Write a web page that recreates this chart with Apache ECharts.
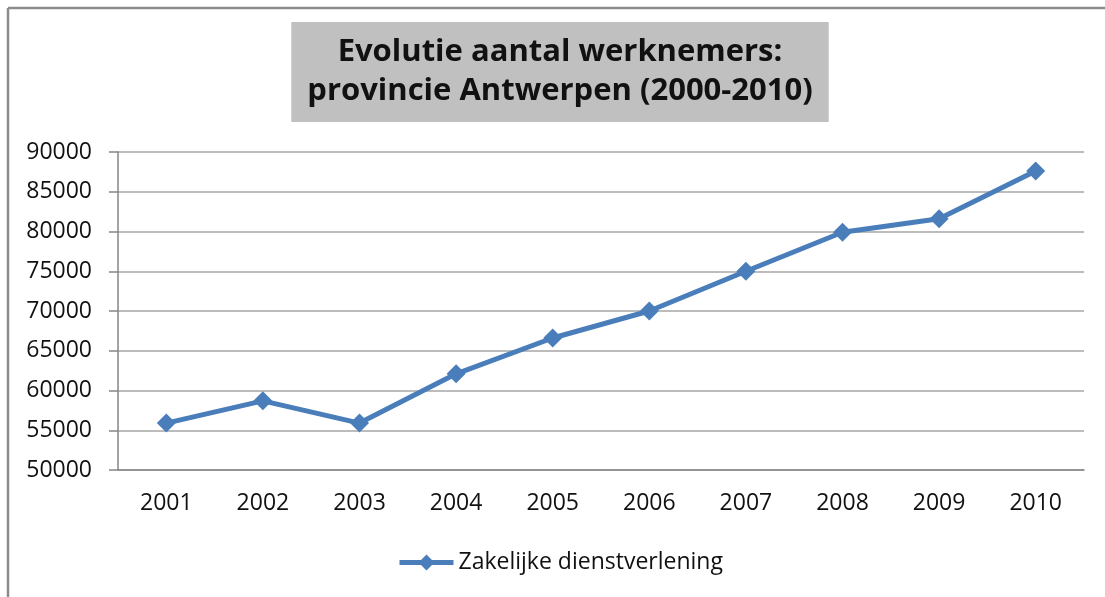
<!DOCTYPE html>
<html lang="nl">
<head>
    <meta charset="UTF-8">
    <title>Evolutie aantal werknemers</title>
    <script src="https://cdn.jsdelivr.net/npm/echarts@6/dist/echarts.min.js"></script>
    <style>
        html, body { margin: 0; padding: 0; background: #fff; }
        #main { width: 1105px; height: 597px; }
    </style>
</head>
<body>
<div id="main"></div>
<script type="text/javascript">
    // gegevens
    var jaren = ['2001', '2002', '2003', '2004', '2005', '2006', '2007', '2008', '2009', '2010'];
    var werknemers = [55900, 58700, 55900, 62100, 66600, 70000, 75000, 79900, 81600, 87600];
    var reeksNaam = 'Zakelijke dienstverlening';
    var yMin = 50000, yMax = 90000, yStap = 5000;

    var font = '"Open Sans", "DejaVu Sans", sans-serif';
    var blauw = '#4a7ebb';

    var myChart = echarts.init(document.getElementById('main'));

    var option = {
        backgroundColor: '#fff',
        title: {
            text: 'Evolutie aantal werknemers:\nprovincie Antwerpen (2000-2010)',
            left: 544,
            top: 22,
            textAlign: 'center',
            backgroundColor: '#c0c0c0',
            padding: [11, 16, 11, 16],
            textStyle: {
                fontFamily: font,
                fontSize: 31,
                fontWeight: 'bold',
                color: '#111',
                lineHeight: 39
            }
        },
        graphic: [
            // rand van de grafiek
            {type: 'line', shape: {x1: 8, y1: 8, x2: 1105, y2: 8}, style: {stroke: '#8c8c8c', lineWidth: 2.5}},
            {type: 'line', shape: {x1: 8, y1: 8, x2: 8, y2: 597}, style: {stroke: '#8c8c8c', lineWidth: 2.5}}
        ],
        legend: {
            top: 546,
            left: 392,
            itemWidth: 54,
            itemHeight: 20,
            itemGap: 6,
            lineStyle: {width: 5},
            textStyle: {fontFamily: font, fontSize: 23, color: '#111'},
            data: [reeksNaam]
        },
        grid: {left: 118, right: 21, top: 152, bottom: 127},
        xAxis: {
            type: 'category',
            data: jaren,
            boundaryGap: true,
            axisLine: {lineStyle: {color: '#868686', width: 1.5}},
            axisTick: {show: false},
            axisLabel: {fontFamily: font, fontSize: 23, color: '#111', margin: 22}
        },
        yAxis: {
            type: 'value',
            min: yMin,
            max: yMax,
            interval: yStap,
            axisLine: {show: true, lineStyle: {color: '#868686', width: 1.5}},
            axisTick: {show: true, length: 9, lineStyle: {color: '#868686', width: 1.5}},
            axisLabel: {
                fontFamily: font, fontSize: 23, color: '#111', margin: 26,
                formatter: function (v) { return String(v); }
            },
            splitLine: {lineStyle: {color: '#a6a6a6', width: 1.5}}
        },
        series: [
            {
                name: reeksNaam,
                type: 'line',
                data: werknemers,
                symbol: 'diamond',
                symbolSize: 19,
                lineStyle: {color: blauw, width: 5},
                itemStyle: {color: blauw},
                animation: false
            }
        ]
    };

    myChart.setOption(option);
</script>
</body>
</html>
